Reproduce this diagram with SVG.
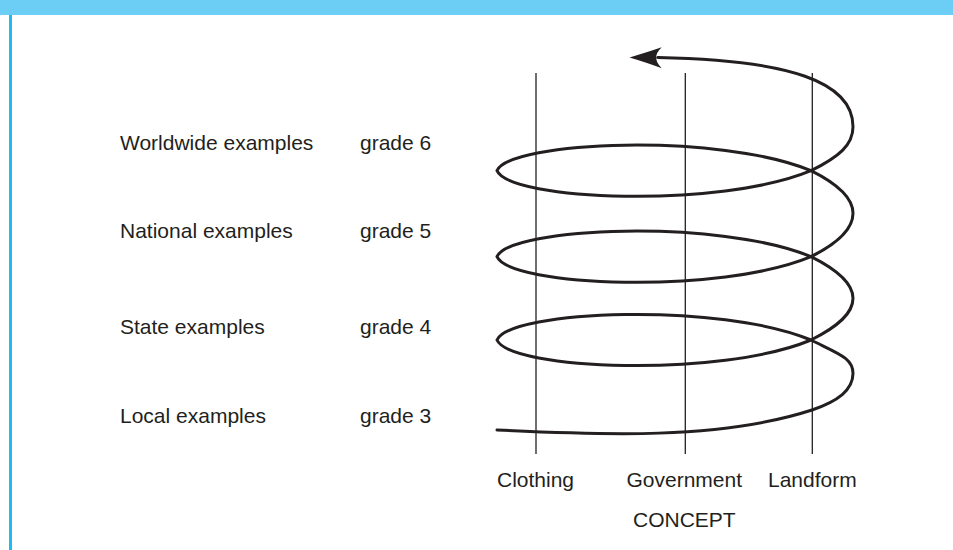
<svg xmlns="http://www.w3.org/2000/svg" width="953" height="550" viewBox="0 0 953 550">
<style>
.t{font-family:"Liberation Sans",Arial,sans-serif;font-size:21px;fill:#231f20}
.axis{stroke:#231f20;stroke-width:1.3;fill:none}
.spiral{stroke:#231f20;stroke-width:3;fill:none;stroke-linecap:round}
</style>
<rect x="0" y="0" width="953" height="550" fill="#ffffff"/>
<rect x="0" y="0" width="953" height="15" fill="#6ccef5"/>
<rect x="9" y="15" width="3" height="535" fill="#1bbcf2"/>
<g id="labels-left">
<text class="t" x="120" y="150">Worldwide examples</text>
<text class="t" x="120" y="238">National examples</text>
<text class="t" x="120" y="333.5">State examples</text>
<text class="t" x="120" y="423">Local examples</text>
</g>
<g id="grades">
<text class="t" x="360" y="150">grade 6</text>
<text class="t" x="360" y="238">grade 5</text>
<text class="t" x="360" y="333.5">grade 4</text>
<text class="t" x="360" y="423">grade 3</text>
</g>
<g id="concept-clothing">
<line class="axis" x1="536" y1="73" x2="536" y2="454"/>
<text class="t" x="497" y="486.5">Clothing</text>
</g>
<g id="concept-government">
<line class="axis" x1="685.3" y1="73" x2="685.3" y2="454"/>
<text class="t" x="626.5" y="486.5">Government</text>
</g>
<g id="concept-landform">
<line class="axis" x1="812.3" y1="73" x2="812.3" y2="454"/>
<text class="t" x="768" y="486.5">Landform</text>
</g>
<g id="concept-title">
<text class="t" x="633" y="526.5">CONCEPT</text>
</g>
<g id="connectors">
<path class="spiral" d="M497,430 C600,435 720,440 812,410 C838,401 853,390 853,373.3 C853,358 839,354 811,340 C720,302 510,310 497,340 C510,370 720,378 811,340 C839,326 853,313 853,298.3 C853,284 839,270.7 811,256.7 C720,218.7 510,226.7 497,256.7 C510,286.7 720,294.7 811,256.7 C839,242.7 853,228 853,213.3 C853,199 839,184.7 811,170.7 C720,132.7 510,140.7 497,170.7 C510,200.7 720,208.7 811,170.7 C839,156.7 853,145 853,126.7 C853,82 790,60 658,57.5"/>
<path d="M629.5,57.5 Q648,52 661.7,47.3 Q655,54 656.7,57.5 Q655,61 661.7,68.3 Q648,63 629.5,57.5 Z" fill="#231f20"/>
</g>
</svg>
